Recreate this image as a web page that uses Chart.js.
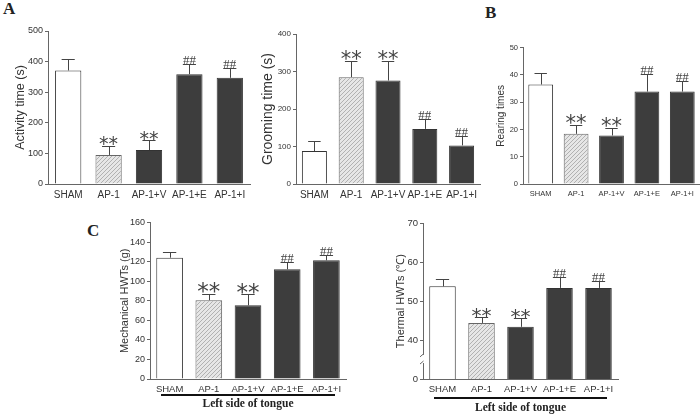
<!DOCTYPE html>
<html lang="en">
<head>
<meta charset="utf-8" />
<title>Behaviour panels</title>
<script src="https://cdn.jsdelivr.net/npm/chart.js"></script>
<style>
  body { margin: 0; background: #fff; }
  #page { position: relative; width: 700px; height: 415px; overflow: hidden; background: #fff; }
  canvas { position: absolute; }
  .letter { position: absolute; font: bold 17px "Liberation Serif", serif; color: #222; }
</style>
</head>
<body>
<div id="page">
  <div class="letter" style="left:3px; top:-1px;">A</div>
  <div class="letter" style="left:485px; top:3px;">B</div>
  <div class="letter" style="left:87px; top:221px;">C</div>
  <canvas id="activity" width="252" height="185" style="left:0; top:20px;"></canvas>
  <canvas id="grooming" width="233" height="185" style="left:252px; top:20px;"></canvas>
  <canvas id="rearing" width="215" height="185" style="left:485px; top:20px;"></canvas>
  <canvas id="mechanical" width="250" height="205" style="left:100px; top:210px;"></canvas>
  <canvas id="thermal" width="245" height="205" style="left:380px; top:210px;"></canvas>
</div>
<script>
const groups = ['SHAM', 'AP-1', 'AP-1+V', 'AP-1+E', 'AP-1+I'];

const activityMean = [371, 95, 111, 359, 347];
const activityErr = [36, 30, 32, 32, 31];
const groomingMean = [88, 285, 276, 147, 103];
const groomingErr = [27, 43, 52, 27, 26];
const rearingMean = [36.5, 18.4, 17.8, 33.9, 33.9];
const rearingErr = [4.3, 3.1, 2.9, 6.5, 3.9];
const mechanicalMean = [124.2, 80.6, 75.4, 112.3, 121.5];
const mechanicalErr = [6.1, 6.7, 11.3, 7.2, 5.1];
const thermalMean = [53.8, 44.4, 43.4, 53.4, 53.4];
const thermalErr = [1.8, 1.4, 2.3, 2.7, 1.8];

// same significance marks in every panel
const marks = ['', '**', '**', '##', '##'];

// hatched fill for the AP-1 bar
const hatch = (() => {
  const c = document.createElement('canvas');
  c.width = 4; c.height = 4;
  const g = c.getContext('2d');
  g.fillStyle = '#e6e6e6';
  g.fillRect(0, 0, 4, 4);
  g.strokeStyle = '#9a9a9a';
  g.lineWidth = 0.7;
  g.beginPath();
  g.moveTo(0, 4); g.lineTo(4, 0);
  g.moveTo(-1, 1); g.lineTo(1, -1);
  g.moveTo(3, 5); g.lineTo(5, 3);
  g.stroke();
  return g.createPattern(c, 'repeat');
})();
const dark = '#3d3d3d';
const fills = ['#ffffff', hatch, dark, dark, dark];
const borders = ['#333', '#666', '#333', '#333', '#333'];

Chart.defaults.font.family = '"Liberation Sans", Arial, sans-serif';
Chart.defaults.color = '#333';

const extras = {
  id: 'extras',
  afterDatasetsDraw(chart, args, o) {
    const ctx = chart.ctx;
    const y = chart.scales.y;
    const meta = chart.getDatasetMeta(0);
    const mean = chart.data.datasets[0].data;
    ctx.save();
    meta.data.forEach((bar, i) => {
      const top = y.getPixelForValue(mean[i] + o.err[i]);
      const cap = bar.width / 4;
      ctx.strokeStyle = '#444';
      ctx.lineWidth = 1;
      ctx.beginPath();
      ctx.moveTo(Math.round(bar.x) + 0.5, bar.y);
      ctx.lineTo(Math.round(bar.x) + 0.5, Math.round(top) + 0.5);
      ctx.moveTo(bar.x - cap, Math.round(top) + 0.5);
      ctx.lineTo(bar.x + cap, Math.round(top) + 0.5);
      ctx.stroke();
      const m = o.marks[i];
      ctx.fillStyle = '#444';
      ctx.textAlign = 'center';
      ctx.textBaseline = 'alphabetic';
      if (m === '**') {
        ctx.font = o.starSize + 'px "DejaVu Sans", sans-serif';
        ctx.fillText(m, bar.x, top + o.starSize * 0.24);
      } else if (m === '##') {
        ctx.font = '13px "Liberation Serif", serif';
        ctx.fillText(m, bar.x, top);
      }
    });
    ctx.restore();
  },
  afterDraw(chart, args, o) {
    const ctx = chart.ctx;
    const area = chart.chartArea;
    ctx.save();
    if (o.underline) {
      ctx.strokeStyle = '#111';
      ctx.lineWidth = 2;
      ctx.beginPath();
      ctx.moveTo(area.left + 11, area.bottom + o.underline);
      ctx.lineTo(area.right - 11, area.bottom + o.underline);
      ctx.stroke();
    }
    if (o.axisBreak) {
      const y = chart.scales.y;
      const y1 = y.getPixelForValue(o.axisBreak[0]);
      const y2 = y.getPixelForValue(o.axisBreak[1]);
      ctx.fillStyle = '#fff';
      ctx.fillRect(area.left - 2, y1, 4, y2 - y1);
      ctx.strokeStyle = '#666';
      ctx.lineWidth = 1;
      ctx.beginPath();
      ctx.moveTo(area.left - 3, y1 + 2); ctx.lineTo(area.left + 0.5, y1 - 1);
      ctx.moveTo(area.left - 3, y2 + 1); ctx.lineTo(area.left + 0.5, y2 - 2);
      ctx.stroke();
    }
    ctx.restore();
  }
};

function makeChart(id, o) {
  return new Chart(document.getElementById(id), {
    type: 'bar',
    data: {
      labels: groups,
      datasets: [{
        data: o.mean,
        backgroundColor: fills,
        borderColor: borders,
        borderWidth: 1,
        borderSkipped: 'bottom',
        barPercentage: o.barPct,
        categoryPercentage: 1
      }]
    },
    options: {
      responsive: false,
      animation: false,
      devicePixelRatio: 1,
      layout: { padding: { top: o.padTop, right: o.padRight, left: 0, bottom: 0 } },
      plugins: {
        legend: { display: false },
        tooltip: { enabled: false },
        extras: { err: o.err, marks: marks, starSize: o.starSize, underline: o.underline, axisBreak: o.axisBreak }
      },
      scales: {
        x: {
          grid: { display: false, drawTicks: false, tickLength: 0 },
          border: { color: '#666' },
          ticks: { font: { size: o.xFont }, padding: 5, maxRotation: 0, autoSkip: false, color: '#333' },
          title: o.xTitle || { display: false },
          afterFit: s => { s.height = o.xH; }
        },
        y: {
          min: o.min,
          max: o.max,
          ticks: { stepSize: o.step, font: { size: o.yFont }, padding: 2, color: '#333', callback: o.tickCb },
          grid: { drawOnChartArea: false, tickLength: 3, color: '#666' },
          border: { color: '#666' },
          title: { display: true, text: o.yTitle, font: { size: o.titleSize }, padding: { top: o.titlePad }, color: '#333' },
          afterFit: s => { s.width = o.yW; }
        }
      }
    },
    plugins: [extras]
  });
}

const tongue = pb => ({
  display: true,
  text: 'Left side of tongue',
  font: { family: '"Liberation Serif", serif', size: 11.5, weight: 'bold' },
  color: '#222',
  padding: { top: 0, bottom: pb }
});

makeChart('activity', {
  mean: activityMean, err: activityErr, min: 0, max: 500, step: 100,
  yTitle: 'Activity time (s)', titleSize: 12.5, titlePad: 13.5,
  yW: 48, padTop: 11, padRight: 2, xH: 21, xFont: 10, yFont: 9, barPct: 0.65, starSize: 19
});
makeChart('grooming', {
  mean: groomingMean, err: groomingErr, min: 0, max: 400, step: 100,
  yTitle: 'Grooming time (s)', titleSize: 14, titlePad: 7.3,
  yW: 44, padTop: 14, padRight: 5, xH: 21, xFont: 10, yFont: 8, barPct: 0.68, starSize: 21
});
makeChart('rearing', {
  mean: rearingMean, err: rearingErr, min: 0, max: 50, step: 10,
  yTitle: 'Rearing times', titleSize: 10, titlePad: 10.7,
  yW: 38, padTop: 27.7, padRight: 0, xH: 21, xFont: 7.5, yFont: 7.5, barPct: 0.7, starSize: 21
});
makeChart('mechanical', {
  mean: mechanicalMean, err: mechanicalErr, min: 0, max: 160, step: 20,
  yTitle: 'Mechanical HWTs (g)', titleSize: 11, titlePad: 18.4,
  yW: 50, padTop: 12.7, padRight: 4, xH: 36, xFont: 9.5, yFont: 9, barPct: 0.68, starSize: 23,
  xTitle: tongue(4), underline: 16
});
makeChart('thermal', {
  mean: thermalMean, err: thermalErr, min: 30, max: 70, step: 10,
  tickCb: v => (v === 30 ? '0' : v),
  yTitle: 'Thermal HWTs (℃)', titleSize: 11, titlePad: 14.1,
  yW: 43, padTop: 13.3, padRight: 7, xH: 36, xFont: 9.5, yFont: 9.5, barPct: 0.68, starSize: 20,
  xTitle: tongue(0), underline: 19, axisBreak: [36.2, 34.1]
});
</script>
</body>
</html>
